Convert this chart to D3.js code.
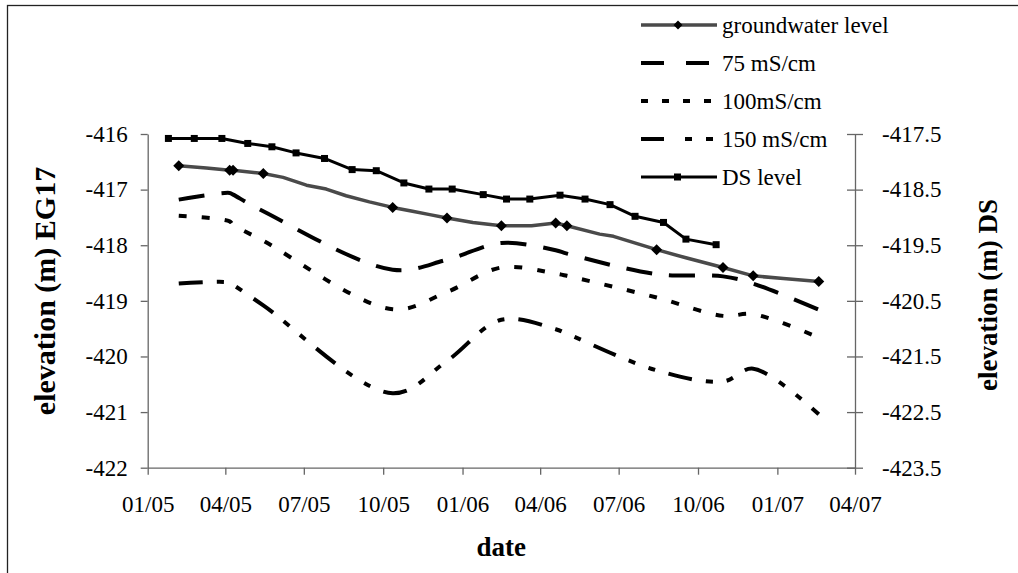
<!DOCTYPE html>
<html>
<head>
<meta charset="utf-8">
<script src="https://cdn.jsdelivr.net/npm/d3@7/dist/d3.min.js"></script>
<style>
body { margin: 0; background: #fff; }
svg text { font-family: "Liberation Serif", "Times New Roman", serif; fill: #000; }
</style>
</head>
<body>
<script>
var width = 1018;
var height = 573;

// groundwater level EG17 (left axis), 1 = diamond marker drawn
var gwDates = ["2005-02-06", "2005-03-10", "2005-04-06", "2005-04-10", "2005-05-15", "2005-06-07",
  "2005-07-04", "2005-07-27", "2005-08-19", "2005-09-15", "2005-10-12", "2005-11-04", "2005-11-24",
  "2005-12-14", "2006-01-13", "2006-02-15", "2006-03-22", "2006-04-19", "2006-05-02", "2006-06-09",
  "2006-06-25", "2006-08-14", "2006-09-18", "2006-10-30", "2006-12-04", "2007-01-08", "2007-02-18"];
var gwLevel = [-416.57, -416.61, -416.65, -416.65, -416.71, -416.78,
  -416.92, -416.99, -417.11, -417.22, -417.32, -417.39, -417.45,
  -417.51, -417.59, -417.65, -417.65, -417.60, -417.65, -417.80,
  -417.84, -418.08, -418.23, -418.40, -418.55, -418.60, -418.65];
var gwMarked = [1, 0, 1, 1, 1, 0, 0, 0, 0, 0, 1, 0, 0, 1, 0, 1, 0, 1, 1, 0, 0, 1, 0, 1, 1, 0, 1];

// EC profile dates and elevation of the 75 / 100 / 150 mS/cm levels (left axis)
var ecDates = ["2005-02-06", "2005-04-06", "2005-04-10", "2005-05-15", "2005-10-12", "2005-12-14",
  "2006-02-15", "2006-04-19", "2006-05-02", "2006-08-14", "2006-10-30", "2006-12-04", "2007-02-18"];
var ec75 = [-417.18, -417.06, -417.09, -417.39, -418.44, -418.26, -417.96, -418.09, -418.15, -418.52, -418.56, -418.69, -419.16];
var ec100 = [-417.47, -417.57, -417.63, -417.92, -419.15, -418.84, -418.40, -418.51, -418.55, -418.94, -419.27, -419.24, -419.66];
var ec150 = [-418.69, -418.67, -418.71, -419.08, -420.66, -420.08, -419.34, -419.51, -419.59, -420.25, -420.45, -420.22, -421.04];

// DS level (right axis)
var dsDates = ["2005-01-25", "2005-02-24", "2005-03-28", "2005-04-27", "2005-05-25", "2005-06-22",
  "2005-07-25", "2005-08-26", "2005-09-23", "2005-10-25", "2005-11-23", "2005-12-20", "2006-01-25",
  "2006-02-21", "2006-03-20", "2006-04-24", "2006-05-23", "2006-06-21", "2006-07-20", "2006-08-22",
  "2006-09-17", "2006-10-22"];
var dsLevel = [-417.58, -417.58, -417.58, -417.67, -417.73, -417.84,
  -417.94, -418.14, -418.16, -418.38, -418.49, -418.49, -418.59,
  -418.67, -418.67, -418.60, -418.67, -418.77, -418.98, -419.09,
  -419.39, -419.49];

var leftTicks = [-416, -417, -418, -419, -420, -421, -422];
var rightTicks = [-417.5, -418.5, -419.5, -420.5, -421.5, -422.5, -423.5];
var xStart = "2005-01-01", xEnd = "2007-04-01";

var legendNames = ["groundwater level", "75 mS/cm", "100mS/cm", "150 mS/cm", "DS level"];

var parse = d3.utcParse("%Y-%m-%d");
// plot box (note: "top" is a reserved window property, so prefix everything)
var plotLeft = 147.7, plotRight = 855, plotTop = 134, plotBottom = 467.7;

var x = d3.scaleUtc().domain([parse(xStart), parse(xEnd)]).range([plotLeft, plotRight]);
var yL = d3.scaleLinear().domain([-422, -416]).range([plotBottom, plotTop]);
var yR = d3.scaleLinear().domain([-423.5, -417.5]).range([plotBottom, plotTop]);

var svg = d3.select("body").append("svg")
  .attr("width", width)
  .attr("height", height);

// outer chart frame (runs off right and bottom)
svg.append("rect")
  .attr("x", 7.5).attr("y", 5.5)
  .attr("width", 1100).attr("height", 700)
  .attr("fill", "none").attr("stroke", "#222").attr("stroke-width", 1.3);

function styleAxis(g) {
  g.selectAll("path, line").attr("stroke", "#666").attr("stroke-width", 1.3);
  g.selectAll("text").attr("font-size", "23px").attr("fill", "#000");
}

// x axis
svg.append("g")
  .attr("transform", "translate(0," + plotBottom + ")")
  .call(d3.axisBottom(x)
    .ticks(d3.utcMonth.every(3))
    .tickFormat(d3.utcFormat("%m/%y"))
    .tickSize(7).tickSizeOuter(0).tickPadding(21))
  .call(styleAxis);

// left axis
svg.append("g")
  .attr("transform", "translate(" + plotLeft + ",0)")
  .call(d3.axisLeft(yL)
    .tickValues(leftTicks)
    .tickFormat(function(d){ return String(d); })
    .tickSize(7).tickSizeOuter(0).tickPadding(13))
  .call(styleAxis);

// right axis, ticks cross the line
var rAxis = svg.append("g")
  .attr("transform", "translate(" + plotRight + ",0)")
  .call(d3.axisRight(yR)
    .tickValues(rightTicks)
    .tickFormat(function(d){ return String(d); })
    .tickSize(8).tickSizeOuter(0).tickPadding(19))
  .call(styleAxis);
rAxis.selectAll(".tick line").attr("x1", -8);

// axis titles
svg.append("text")
  .attr("transform", "translate(44,291) rotate(-90)")
  .attr("text-anchor", "middle").attr("dy", "0.35em")
  .attr("font-size", "30px").attr("font-weight", "bold")
  .text("elevation (m) EG17");

svg.append("text")
  .attr("transform", "translate(988,295) rotate(-90)")
  .attr("text-anchor", "middle").attr("dy", "0.35em")
  .attr("font-size", "27px").attr("font-weight", "bold")
  .text("elevation (m) DS");

svg.append("text")
  .attr("x", (plotLeft + plotRight) / 2).attr("y", 547)
  .attr("text-anchor", "middle").attr("dy", "0.35em")
  .attr("font-size", "27px").attr("font-weight", "bold")
  .text("date");

// EC level curves (smoothed)
var ecSeries = [
  { values: ec75, dash: "26,17" },
  { values: ec100, dash: "8,15" },
  { values: ec150, dash: "24,14,7,14,7,14" }
];
var ecLine = d3.line()
  .curve(d3.curveCatmullRom.alpha(0.5))
  .x(function(d){ return x(d[0]); })
  .y(function(d){ return yL(d[1]); });

ecSeries.forEach(function(s){
  var pts = ecDates.map(function(d, i){ return [parse(d), s.values[i]]; });
  svg.append("path")
    .attr("d", ecLine(pts))
    .attr("fill", "none")
    .attr("stroke", "#000")
    .attr("stroke-width", 4)
    .attr("stroke-dasharray", s.dash);
});

// groundwater level
var gwPts = gwDates.map(function(d, i){ return [parse(d), gwLevel[i], gwMarked[i]]; });
svg.append("path")
  .attr("d", d3.line()
    .x(function(d){ return x(d[0]); })
    .y(function(d){ return yL(d[1]); })(gwPts))
  .attr("fill", "none")
  .attr("stroke", "#4a4a4a")
  .attr("stroke-width", 3.5)
  .attr("stroke-linejoin", "round");

var diamond = "M0,-5.5L5.5,0L0,5.5L-5.5,0Z";
svg.selectAll(".gw-mark")
  .data(gwPts.filter(function(d){ return d[2]; }))
  .enter()
  .append("path")
  .attr("class", "gw-mark")
  .attr("d", diamond)
  .attr("transform", function(d){ return "translate(" + x(d[0]) + "," + yL(d[1]) + ")"; })
  .attr("fill", "#000");

// DS level
var dsPts = dsDates.map(function(d, i){ return [parse(d), dsLevel[i]]; });
svg.append("path")
  .attr("d", d3.line()
    .x(function(d){ return x(d[0]); })
    .y(function(d){ return yR(d[1]); })(dsPts))
  .attr("fill", "none")
  .attr("stroke", "#000")
  .attr("stroke-width", 3)
  .attr("stroke-linejoin", "round");

svg.selectAll(".ds-mark")
  .data(dsPts)
  .enter()
  .append("rect")
  .attr("class", "ds-mark")
  .attr("x", function(d){ return x(d[0]) - 3.5; })
  .attr("y", function(d){ return yR(d[1]) - 3.5; })
  .attr("width", 7).attr("height", 7)
  .attr("fill", "#000");

// legend
var legendY = [25, 63, 101, 139, 177];
var legendStyle = [
  { stroke: "#4a4a4a", width: 3.5, dash: null, mark: "diamond" },
  { stroke: "#000", width: 4, dash: "23,22", mark: null },
  { stroke: "#000", width: 4, dash: "7,14", mark: null },
  { stroke: "#000", width: 4, dash: "23,21,7,14,7,14", mark: null },
  { stroke: "#000", width: 3, dash: null, mark: "square" }
];
var legend = svg.append("g");
legendNames.forEach(function(name, i){
  var st = legendStyle[i];
  var y = legendY[i];
  var ln = legend.append("line")
    .attr("x1", 641).attr("x2", 717)
    .attr("y1", y).attr("y2", y)
    .attr("stroke", st.stroke)
    .attr("stroke-width", st.width);
  if (st.dash) ln.attr("stroke-dasharray", st.dash);
  if (st.mark === "diamond") {
    legend.append("path").attr("d", "M0,-4.5L4.5,0L0,4.5L-4.5,0Z")
      .attr("transform", "translate(678," + y + ")").attr("fill", "#000");
  }
  if (st.mark === "square") {
    legend.append("rect").attr("x", 674).attr("y", y - 3.5)
      .attr("width", 7).attr("height", 7).attr("fill", "#000");
  }
  legend.append("text")
    .attr("x", 722).attr("y", y)
    .attr("dy", "0.35em")
    .attr("font-size", "23px")
    .text(name);
});
</script>
</body>
</html>
